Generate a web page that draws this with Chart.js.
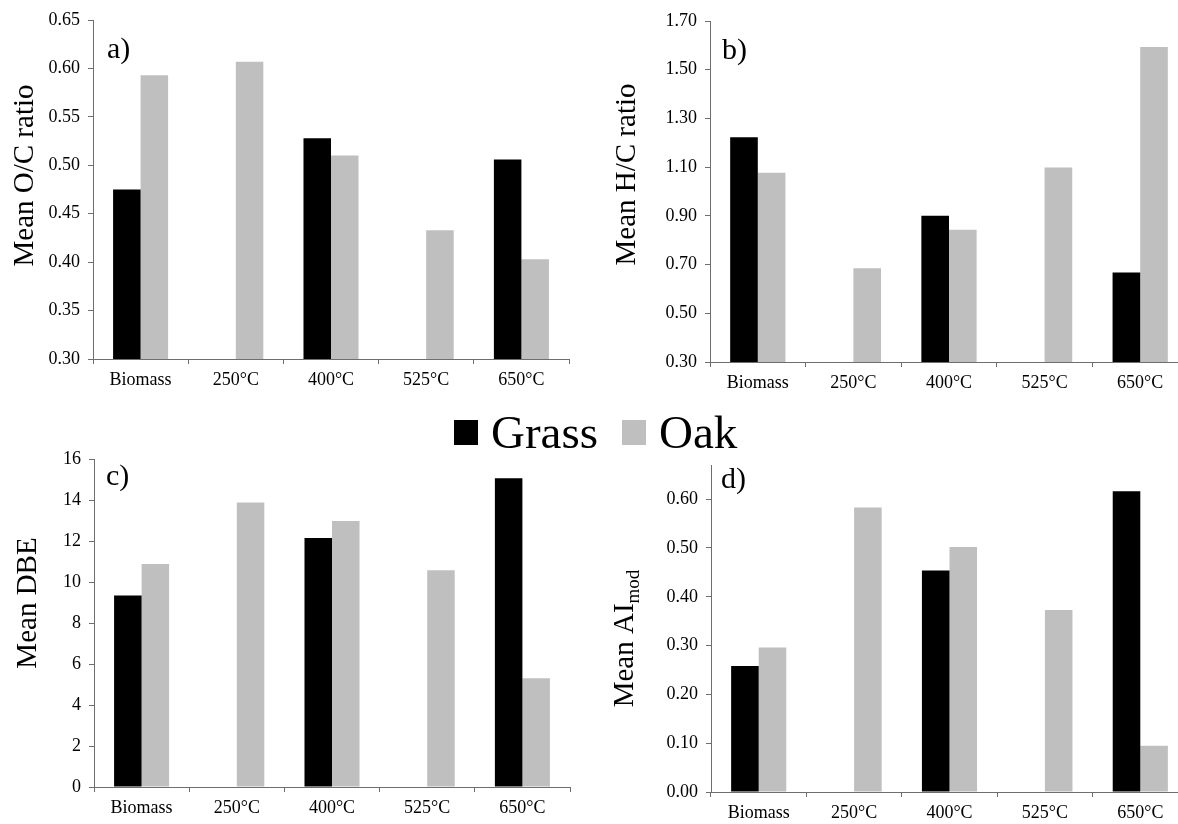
<!DOCTYPE html>
<html>
<head>
<meta charset="utf-8">
<script src="https://cdn.jsdelivr.net/npm/chart.js@4.4.1/dist/chart.umd.min.js"></script>
<style>
  html, body { margin: 0; padding: 0; background: #fff; overflow: hidden; width: 1178px; height: 824px; }
  .panel { position: absolute; }
  .leg-box { position: absolute; width: 24px; height: 25px; }
  .leg-text { position: absolute; font: 47px "Liberation Serif", "Times New Roman", serif; line-height: 47px; color: #000; }
</style>
</head>
<body>
<div class="panel" style="left:0;top:0;width:600px;height:400px"><canvas id="chartA"></canvas></div>
<div class="panel" style="left:600px;top:0;width:600px;height:400px"><canvas id="chartB"></canvas></div>
<div class="panel" style="left:0;top:420px;width:600px;height:404px"><canvas id="chartC"></canvas></div>
<div class="panel" style="left:600px;top:420px;width:600px;height:404px"><canvas id="chartD"></canvas></div>

<div class="leg-box" style="left:454px;top:420px;background:#000"></div>
<div class="leg-text" style="left:491px;top:409px">Grass</div>
<div class="leg-box" style="left:622px;top:420px;background:#bfbfbf"></div>
<div class="leg-text" style="left:659px;top:409px">Oak</div>

<script>
// categories (x axis)
const categories = ['Biomass', '250°C', '400°C', '525°C', '650°C'];

// a) O/C ratio
const grassOC = [0.475, null, 0.528, null, 0.506];
const oakOC = [0.593, 0.607, 0.510, 0.433, 0.403];
const ticksOC = [0.30, 0.35, 0.40, 0.45, 0.50, 0.55, 0.60, 0.65];

// b) H/C ratio
const grassHC = [1.223, null, 0.900, null, 0.667];
const oakHC = [1.077, 0.685, 0.843, 1.099, 1.593];
const ticksHC = [0.30, 0.50, 0.70, 0.90, 1.10, 1.30, 1.50, 1.70];

// c) DBE
const grassDBE = [9.34, null, 12.15, null, 15.06];
const oakDBE = [10.88, 13.88, 12.97, 10.57, 5.30];
const ticksDBE = [0, 2, 4, 6, 8, 10, 12, 14, 16];

// d) AI mod
const grassAI = [0.258, null, 0.454, null, 0.616];
const oakAI = [0.296, 0.583, 0.502, 0.373, 0.095];
const ticksAI = [0.00, 0.10, 0.20, 0.30, 0.40, 0.50, 0.60];

const SERIF = '"Liberation Serif", "Times New Roman", serif';
const AXIS_COLOR = '#6e6e6e';

// draws the panel letter and the rotated y title (with optional subscript)
const panelText = {
  id: 'panelText',
  afterDraw(chart, args, opts) {
    const ctx = chart.ctx;
    const area = chart.chartArea;
    ctx.save();
    ctx.fillStyle = '#000';
    ctx.font = '30px ' + SERIF;
    ctx.textBaseline = 'alphabetic';
    ctx.fillText(opts.letter, area.left + opts.dx, area.top + opts.dy);

    const t = opts.yTitle;
    ctx.translate(t.x, (area.top + area.bottom) / 2 + t.dy);
    ctx.rotate(-Math.PI / 2);
    ctx.font = '29px ' + SERIF;
    const w1 = ctx.measureText(t.main).width;
    ctx.font = '19px ' + SERIF;
    const w2 = t.sub ? ctx.measureText(t.sub).width : 0;
    const x0 = -(w1 + w2) / 2;
    ctx.textBaseline = 'middle';
    ctx.font = '29px ' + SERIF;
    ctx.fillText(t.main, x0, 0);
    if (t.sub) {
      ctx.font = '19px ' + SERIF;
      ctx.fillText(t.sub, x0 + w1, 9);
    }
    ctx.restore();
  }
};

function makePanel(id, grass, oak, cfg) {
  const tickVals = cfg.ticks;
  return new Chart(document.getElementById(id), {
    type: 'bar',
    data: {
      labels: categories,
      datasets: [
        { label: 'Grass', data: grass, backgroundColor: '#000000', borderWidth: 0 },
        { label: 'Oak', data: oak, backgroundColor: '#bfbfbf', borderWidth: 0 }
      ]
    },
    options: {
      responsive: true,
      maintainAspectRatio: false,
      animation: false,
      barPercentage: 1,
      categoryPercentage: 0.578,
      layout: { padding: cfg.padding },
      plugins: {
        legend: { display: false },
        tooltip: { enabled: false },
        panelText: { letter: cfg.letter, dx: cfg.letterDx, dy: cfg.letterDy, yTitle: cfg.yTitle }
      },
      scales: {
        x: {
          offset: true,
          grid: { drawOnChartArea: false, drawTicks: true, tickLength: 5, color: AXIS_COLOR, offset: true },
          border: { color: AXIS_COLOR, width: 1 },
          ticks: { color: '#000', font: { family: SERIF, size: 18 }, padding: 5, maxRotation: 0 },
          afterFit: s => { s.height = cfg.xHeight; }
        },
        y: {
          min: cfg.min,
          max: cfg.max,
          afterBuildTicks: s => { s.ticks = tickVals.map(v => ({ value: v })); },
          grid: { drawOnChartArea: false, drawTicks: true, tickLength: 5, color: AXIS_COLOR },
          border: { color: AXIS_COLOR, width: 1 },
          ticks: {
            color: '#000',
            font: { family: SERIF, size: 18 },
            padding: 8,
            callback: v => v.toFixed(cfg.decimals)
          },
          afterFit: s => { s.width = cfg.yWidth; }
        }
      }
    },
    plugins: [panelText]
  });
}

makePanel('chartA', grassOC, oakOC, {
  ticks: ticksOC, min: 0.30, max: 0.65, decimals: 2,
  yTitle: { main: 'Mean O/C ratio', x: 25, dy: -14 },
  yWidth: 93, xHeight: 41,
  padding: { top: 20, right: 31, left: 0, bottom: 0 },
  letter: 'a)', letterDx: 14, letterDy: 38
});

makePanel('chartB', grassHC, oakHC, {
  ticks: ticksHC, min: 0.30, max: 1.70, decimals: 2,
  yTitle: { main: 'Mean H/C ratio', x: 27, dy: -17 },
  yWidth: 110, xHeight: 38,
  padding: { top: 21, right: 12, left: 0, bottom: 0 },
  letter: 'b)', letterDx: 12, letterDy: 38
});

makePanel('chartC', grassDBE, oakDBE, {
  ticks: ticksDBE, min: 0, max: 16, decimals: 0,
  yTitle: { main: 'Mean DBE', x: 28, dy: -20 },
  yWidth: 94, xHeight: 37,
  padding: { top: 39, right: 30, left: 0, bottom: 0 },
  letter: 'c)', letterDx: 12, letterDy: 26
});

makePanel('chartD', grassAI, oakAI, {
  ticks: ticksAI, min: 0, max: 0.67, decimals: 2,
  yTitle: { main: 'Mean AI', sub: 'mod', x: 25, dy: 10 },
  yWidth: 111, xHeight: 32,
  padding: { top: 45, right: 12, left: 0, bottom: 0 },
  letter: 'd)', letterDx: 10, letterDy: 23
});
</script>
</body>
</html>
